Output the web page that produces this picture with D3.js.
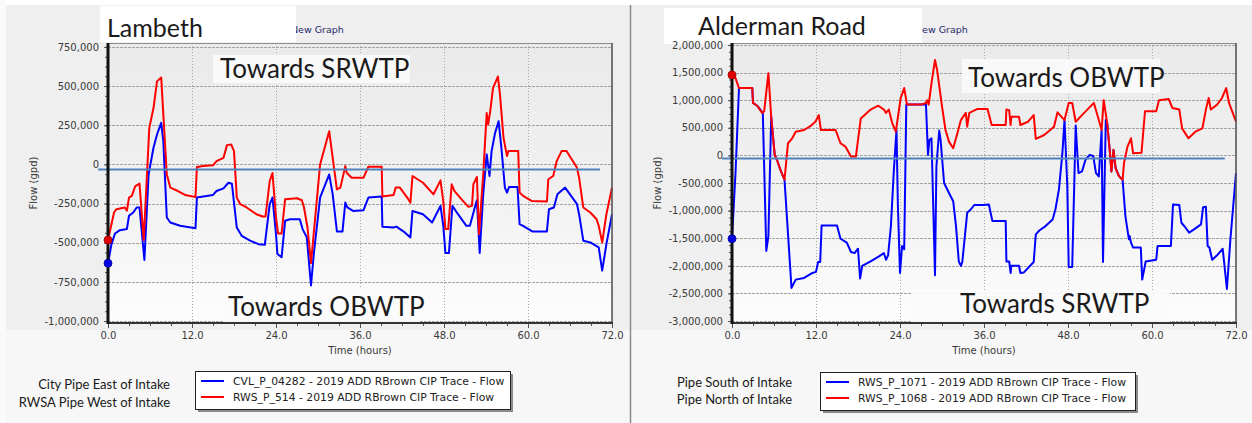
<!DOCTYPE html>
<html><head><meta charset="utf-8">
<script src="https://cdn.jsdelivr.net/npm/d3@7"></script>
<style>body{margin:0;background:#f0f0f0;} svg{display:block}</style>
</head><body><svg id="c" width="1252" height="423"></svg>
<script>
// ---------- data ----------
const timeTicks = [0, 12, 24, 36, 48, 60, 72];
const timeTickLabels = ["0.0", "12.0", "24.0", "36.0", "48.0", "60.0", "72.0"];

const lambethYTicks = [750000, 500000, 250000, 0, -250000, -500000, -750000, -1000000];
const lambethYLabels = ["750,000", "500,000", "250,000", "0", "-250,000", "-500,000", "-750,000", "-1,000,000"];
const aldermanYTicks = [2000000, 1500000, 1000000, 500000, 0, -500000, -1000000, -1500000, -2000000, -2500000, -3000000];
const aldermanYLabels = ["2,000,000", "1,500,000", "1,000,000", "500,000", "0", "-500,000", "-1,000,000", "-1,500,000", "-2,000,000", "-2,500,000", "-3,000,000"];

// Lambeth: CVL_P_04282 (blue) and RWS_P_514 (red), [hours, gpd]
const lambethCity = [[0,-631000],[0.5,-509000],[1,-441000],[1.7,-420000],[2.7,-413000],[3.0,-328000],[3.6,-307000],[4.1,-275000],[4.5,-275000],[5.2,-610000],[5.8,-64000],[6.5,106000],[7,191000],[7.6,265000],[7.9,148000],[8.4,-339000],[8.9,-371000],[10.3,-392000],[12.5,-407000],[12.7,-212000],[15,-195000],[15.5,-170000],[16.5,-153000],[17.2,-117000],[17.7,-123000],[18.4,-403000],[19.1,-456000],[20.3,-487000],[21.5,-509000],[22.4,-513000],[23.1,-254000],[23.5,-212000],[24,-445000],[24.2,-572000],[24.8,-593000],[25.3,-360000],[26,-350000],[27.4,-350000],[27.8,-413000],[28.4,-466000],[29,-773000],[29.4,-572000],[30.3,-212000],[31.6,-64000],[32.1,-191000],[32.7,-428000],[33.5,-428000],[33.9,-244000],[34.2,-275000],[35,-297000],[36.5,-292000],[37.2,-212000],[39.1,-205000],[39.2,-398000],[40.8,-403000],[41.2,-397000],[42.4,-434000],[43.2,-466000],[43.5,-297000],[45,-318000],[46.3,-371000],[47.5,-265000],[47.9,-392000],[48.2,-566000],[48.7,-566000],[49.2,-265000],[50.0,-318000],[51.2,-392000],[51.7,-392000],[52.4,-275000],[52.7,-229000],[53.1,-566000],[53.6,-191000],[54.1,64000],[54.5,-74000],[54.8,85000],[55.3,201000],[55.8,275000],[56.2,106000],[56.7,-148000],[57.0,-180000],[57.3,-144000],[58.5,-144000],[58.8,-381000],[59.3,-392000],[60.6,-428000],[62.7,-428000],[63,-286000],[63.7,-275000],[64.2,-191000],[65.3,-148000],[66,-191000],[67,-254000],[67.3,-318000],[67.9,-487000],[68.9,-498000],[70.1,-530000],[70.6,-678000],[71.2,-509000],[72,-318000]];
const lambethRwsa = [[0,-483000],[0.86,-307000],[1.2,-286000],[2.4,-275000],[2.7,-295000],[3.0,-212000],[3.4,-201000],[3.9,-138000],[4.5,-123000],[5.1,-483000],[5.9,233000],[6.5,360000],[7.0,530000],[7.6,555000],[8.4,-64000],[8.9,-148000],[10.0,-170000],[11,-195000],[12.5,-208000],[12.7,-17000],[13.6,-10000],[15.0,-6000],[15.5,21000],[16.5,42000],[17,123000],[17.6,127000],[18,85000],[18.4,-212000],[18.9,-254000],[19.8,-275000],[21.2,-318000],[22.1,-333000],[22.5,-333000],[23.1,-106000],[23.5,-55000],[24,-339000],[24.3,-441000],[24.8,-441000],[25.3,-222000],[27,-216000],[27.7,-229000],[28,-275000],[28.5,-403000],[29,-630000],[30.3,0],[31.6,212000],[32.1,42000],[32.7,-159000],[33.2,-148000],[33.9,-11000],[34.1,-53000],[34.8,-85000],[36.5,-85000],[37.2,-15000],[39.1,-15000],[39.2,-205000],[40.8,-195000],[41.1,-148000],[41.7,-148000],[42.9,-222000],[43.2,-244000],[43.5,-74000],[45.0,-117000],[46.5,-191000],[47.5,-102000],[47.9,-237000],[48.2,-413000],[48.6,-413000],[49.1,-127000],[49.5,-170000],[50.7,-233000],[51.5,-271000],[52.0,-265000],[52.2,-127000],[52.7,-80000],[53.0,-445000],[53.6,-64000],[54.1,328000],[54.3,254000],[54.6,339000],[55.0,487000],[55.7,561000],[56.0,445000],[56.5,170000],[57,53000],[57.2,85000],[58.6,85000],[58.8,-180000],[59.3,-201000],[60.5,-233000],[62.7,-237000],[62.9,-95000],[63.6,-74000],[64.1,21000],[64.8,85000],[65.5,85000],[67,-21000],[67.3,-85000],[67.9,-275000],[68.9,-307000],[69.8,-350000],[70.1,-392000],[70.6,-498000],[71.2,-318000],[72,-148000]];

// Alderman Road: RWS_P_1071 (blue) and RWS_P_1068 (red), [hours, gpd]
const aldermanSouth = [[0,-1510000],[0.5,-320000],[1,1220000],[2.9,1220000],[3.0,950000],[3.6,900000],[4.4,770000],[4.9,-1730000],[5.2,-1460000],[5.6,700000],[6.1,10000],[6.5,-110000],[7,-290000],[7.5,-440000],[8.5,-2400000],[9.1,-2250000],[10.3,-2220000],[11.5,-2130000],[12,-2110000],[12.3,-1930000],[12.6,-1930000],[12.8,-1270000],[15,-1270000],[15.5,-1510000],[16.4,-1580000],[17,-1750000],[17.5,-1770000],[18,-1690000],[18.3,-2230000],[18.6,-2000000],[19.8,-1920000],[21,-1830000],[21.7,-1770000],[22,-1890000],[22.3,-1810000],[22.7,-1280000],[23.1,-320000],[23.5,460000],[23.7,-920000],[24,-2130000],[24.3,-1640000],[24.6,-1700000],[24.9,920000],[27.4,920000],[27.7,950000],[28,10000],[28.2,280000],[28.5,310000],[29,-2170000],[29.2,-200000],[29.6,450000],[29.8,280000],[30.3,-500000],[31,-680000],[31.6,-830000],[32,-1280000],[32.4,-1920000],[32.7,-2000000],[32.9,-1930000],[33.6,-1040000],[34.1,-980000],[34.6,-900000],[35.8,-900000],[36.7,-890000],[37.2,-1190000],[39.1,-1190000],[39.2,-1920000],[39.6,-1920000],[39.8,-2130000],[39.9,-2000000],[41,-2000000],[41.2,-2130000],[41.7,-2120000],[43.1,-1930000],[43.4,-1430000],[43.9,-1360000],[44.8,-1280000],[45.8,-1160000],[46.2,-980000],[46.7,-620000],[47.2,40000],[47.5,640000],[47.9,-560000],[48.1,-2020000],[48.6,-2020000],[49.1,540000],[49.5,-320000],[50.0,-290000],[50.5,-80000],[51.1,10000],[51.6,-10000],[52,-320000],[52.4,-380000],[52.8,460000],[53.0,-1930000],[53.4,640000],[53.6,580000],[54,40000],[54.2,-290000],[54.5,100000],[54.8,-230000],[55.3,-380000],[55.8,-440000],[56.2,-1100000],[56.7,-1520000],[56.8,-1460000],[57.0,-1580000],[57.3,-1670000],[58.4,-1670000],[58.6,-2250000],[59.1,-1920000],[60.6,-1890000],[60.8,-1640000],[62.7,-1640000],[63,-890000],[63.9,-900000],[64.2,-1220000],[64.8,-1310000],[65.3,-1400000],[66,-1340000],[67,-1250000],[67.3,-940000],[67.7,-930000],[67.95,-1640000],[68.2,-1670000],[68.6,-1890000],[69.3,-1810000],[70.1,-1690000],[70.7,-2420000],[71.2,-1520000],[72,-320000]];
const aldermanNorth = [[0,1458000],[0.5,1400000],[1,1220000],[2.9,1220000],[3.0,950000],[3.6,900000],[4.3,770000],[4.6,800000],[5.2,1490000],[5.6,700000],[6.1,10000],[6.5,-110000],[7,-290000],[7.5,-440000],[8,220000],[8.6,310000],[9.1,430000],[10.3,460000],[11.3,540000],[11.9,610000],[12.4,730000],[12.7,460000],[14.8,460000],[15.5,220000],[16.2,160000],[17,-20000],[17.7,-20000],[18.4,670000],[19.8,830000],[20.9,900000],[21.7,830000],[22,770000],[22.4,830000],[22.9,580000],[23.4,430000],[24.1,1040000],[24.6,1220000],[25,920000],[27,920000],[27.7,950000],[27.9,1000000],[28.1,920000],[28.5,1310000],[29,1730000],[29.3,1550000],[30,890000],[30.5,460000],[31,250000],[31.6,130000],[32.2,400000],[32.7,640000],[33.4,770000],[33.6,520000],[33.9,770000],[35,840000],[36.5,840000],[37.1,550000],[39.1,550000],[39.2,830000],[39.6,820000],[39.8,550000],[39.9,700000],[41,700000],[41.2,550000],[42.3,610000],[43.1,730000],[43.4,300000],[44.6,370000],[46,520000],[46.5,780000],[47.5,640000],[48.1,950000],[48.6,950000],[49.1,610000],[50.0,730000],[51,860000],[51.7,950000],[52.4,640000],[52.8,460000],[53.1,1000000],[53.6,580000],[54,40000],[54.2,-290000],[54.5,100000],[54.8,-230000],[55.3,-380000],[55.8,-440000],[56,-140000],[56.5,160000],[57,310000],[57.3,40000],[58.5,50000],[59,800000],[60.6,800000],[61,1000000],[62.4,1020000],[62.9,860000],[63.9,830000],[64.3,490000],[65.2,310000],[66.2,430000],[67.2,490000],[67.7,830000],[68.1,1040000],[68.4,830000],[69.3,920000],[70,1040000],[70.6,1220000],[71,950000],[72,610000]];

// hand-drawn horizontal reference lines [startHour, endHour, gpd]
const lambethRefLine = [-1.4, 70.3, -32000];
const aldermanRefLine = [-1.4, 70.4, -55000];

const lambethLegend = ["CVL_P_04282 - 2019 ADD RBrown CIP Trace - Flow", "RWS_P_514 - 2019 ADD RBrown CIP Trace - Flow"];
const aldermanLegend = ["RWS_P_1071 - 2019 ADD RBrown CIP Trace - Flow", "RWS_P_1068 - 2019 ADD RBrown CIP Trace - Flow"];
const lambethNotes = ["City Pipe East of Intake", "RWSA Pipe West of Intake"];
const aldermanNotes = ["Pipe South of Intake", "Pipe North of Intake"];

// ---------- drawing ----------
const svg = d3.select("#c");
const W = 1252, H = 423;
const tickFont = "'DejaVu Sans', Verdana, sans-serif";
const annFont = "Lato, 'Open Sans', sans-serif";

const defs = svg.append("defs");
const grad = defs.append("linearGradient").attr("id", "plotbg").attr("x1", 0).attr("y1", 0).attr("x2", 0).attr("y2", 1);
grad.append("stop").attr("offset", "0%").attr("stop-color", "#eaeaea");
grad.append("stop").attr("offset", "55%").attr("stop-color", "#f1f1f1");
grad.append("stop").attr("offset", "100%").attr("stop-color", "#fdfdfd");

svg.append("rect").attr("width", W).attr("height", H).attr("fill", "#efefef");
svg.append("rect").attr("x", 0).attr("y", 330).attr("width", W).attr("height", 93).attr("fill", "#f7f7f7");
svg.append("rect").attr("width", W).attr("height", 5).attr("fill", "#ffffff");
svg.append("rect").attr("width", 6).attr("height", H).attr("fill", "#fafafa");

const panels = [
  { x0: 108, x1: 612, y0: 43, y1: 323, ydom: [-1012500, 775000], yticks: lambethYTicks, ylabels: lambethYLabels,
    minorStep: 62500, blue: lambethCity, red: lambethRwsa, ref: lambethRefLine, legend: lambethLegend, notes: lambethNotes,
    title: "Lambeth", titleBox: [100, 6, 196, 36], titleX: 107, titleY: 37, newGraphX: 291,
    topText: "Towards SRWTP", topBox: [213, 55, 197, 28], topX: 220, topY: 78,
    botText: "Towards OBWTP", botBox: [223, 288, 197, 34], botX: 228, botY: 316,
    legX: 195, legY: 371, noteX: 170, noteY: [389, 407], yLabelX: 33 },
  { x0: 732, x1: 1236, y0: 43, y1: 323, ydom: [-3036000, 2036000], yticks: aldermanYTicks, ylabels: aldermanYLabels,
    minorStep: 125000, blue: aldermanSouth, red: aldermanNorth, ref: aldermanRefLine, legend: aldermanLegend, notes: aldermanNotes,
    title: "Alderman Road", titleBox: [664, 8, 258, 36], titleX: 698, titleY: 35, newGraphX: 915,
    topText: "Towards OBWTP", topBox: [962, 59, 198, 34], topX: 968, topY: 87,
    botText: "Towards SRWTP", botBox: [912, 292, 258, 30], botX: 960, botY: 313,
    legX: 820, legY: 372, noteX: 792, noteY: [387, 404], yLabelX: 657 }
];

panels.forEach(p => {
  const g = svg.append("g");
  const x = d3.scaleLinear().domain([0, 72]).range([p.x0, p.x1]);
  const y = d3.scaleLinear().domain(p.ydom).range([p.y1, p.y0]);

  // plot background
  g.append("rect").attr("x", p.x0).attr("y", p.y0).attr("width", p.x1 - p.x0).attr("height", p.y1 - p.y0).attr("fill", "url(#plotbg)");

  // gridlines
  g.append("g").selectAll("line").data(p.yticks).join("line")
    .attr("x1", p.x0).attr("x2", p.x1).attr("y1", d => Math.round(y(d)) + 0.5).attr("y2", d => Math.round(y(d)) + 0.5)
    .attr("stroke", "#a3a3a3").attr("stroke-width", 1).attr("stroke-dasharray", "3,1");
  g.append("g").selectAll("line").data(timeTicks.slice(1, -1)).join("line")
    .attr("x1", d => Math.round(x(d)) + 0.5).attr("x2", d => Math.round(x(d)) + 0.5).attr("y1", p.y0).attr("y2", p.y1)
    .attr("stroke", "#a8a8a8").attr("stroke-width", 1).attr("stroke-dasharray", "1,2");

  // annotation boxes inside plot
  [p.topBox, p.botBox].forEach(b => {
    g.append("rect").attr("x", b[0]).attr("y", b[1]).attr("width", b[2]).attr("height", b[3]).attr("fill", "#fbfbfb").attr("opacity", 0.9);
  });

  // series
  const line = d3.line().x(d => x(d[0])).y(d => y(d[1]));
  g.append("path").datum(p.blue).attr("d", line).attr("fill", "none").attr("stroke", "#0000ff").attr("stroke-width", 2).attr("stroke-linejoin", "round");
  g.append("path").datum(p.red).attr("d", line).attr("fill", "none").attr("stroke", "#ff0000").attr("stroke-width", 2).attr("stroke-linejoin", "round");

  // reference line
  g.append("line").attr("x1", x(p.ref[0])).attr("x2", x(p.ref[1])).attr("y1", y(p.ref[2])).attr("y2", y(p.ref[2]))
    .attr("stroke", "#4f81bd").attr("stroke-width", 2);

  // title box + New Graph
  g.append("text").attr("x", p.newGraphX).attr("y", 33).text("New Graph")
    .attr("font-family", tickFont).attr("font-size", 9.5).attr("fill", "#27276e");
  g.append("rect").attr("x", p.titleBox[0]).attr("y", p.titleBox[1]).attr("width", p.titleBox[2]).attr("height", p.titleBox[3]).attr("fill", "#ffffff");
  g.append("text").attr("x", p.titleX).attr("y", p.titleY).text(p.title)
    .attr("font-family", annFont).attr("font-size", 25).attr("fill", "#1a1a1a");

  // frame
  g.append("line").attr("x1", p.x0).attr("x2", p.x1).attr("y1", p.y0 + 0.5).attr("y2", p.y0 + 0.5).attr("stroke", "#8c8c8c").attr("stroke-width", 1.2);
  g.append("line").attr("x1", p.x1).attr("x2", p.x1).attr("y1", p.y0).attr("y2", p.y1).attr("stroke", "#555").attr("stroke-width", 1.6);

  // axes
  const yAxis = d3.axisLeft(y).tickValues(p.yticks).tickFormat((d, i) => p.ylabels[i]).tickSize(4).tickSizeOuter(0).tickPadding(5);
  const yMinor = d3.axisLeft(y).tickValues(d3.range(p.yticks[p.yticks.length - 1], p.yticks[0] + 1, p.minorStep)).tickFormat("").tickSize(3).tickSizeOuter(0);
  const ax = g.append("g").attr("transform", `translate(${p.x0},0)`).call(yAxis);
  const axm = g.append("g").attr("transform", `translate(${p.x0},0)`).call(yMinor);
  const xAxis = d3.axisBottom(x).tickValues(timeTicks).tickFormat((d, i) => timeTickLabels[i]).tickSize(5).tickSizeOuter(0).tickPadding(4);
  const xMinor = d3.axisBottom(x).tickValues(d3.range(0, 72.01, 3)).tickFormat("").tickSize(3).tickSizeOuter(0);
  const bx = g.append("g").attr("transform", `translate(0,${p.y1})`).call(xAxis);
  const bxm = g.append("g").attr("transform", `translate(0,${p.y1})`).call(xMinor);
  [ax, axm, bx, bxm].forEach(a => {
    a.select(".domain").remove();
    a.selectAll(".tick line").attr("stroke", "#555");
    a.selectAll(".tick text").attr("font-family", tickFont).attr("font-size", 10).attr("fill", "#3a3a3a");
  });
  g.append("line").attr("x1", p.x0).attr("x2", p.x1 + 1).attr("y1", p.y1).attr("y2", p.y1).attr("stroke", "#333").attr("stroke-width", 2);
  g.append("line").attr("x1", p.x0).attr("x2", p.x0).attr("y1", p.y0).attr("y2", p.y1 + 1).attr("stroke", "#111").attr("stroke-width", 3);

  // start markers
  g.append("circle").attr("cx", x(p.red[0][0])).attr("cy", y(p.red[0][1])).attr("r", 4).attr("fill", "#e00000").attr("stroke", "#a00000").attr("stroke-width", 0.8);
  g.append("circle").attr("cx", x(p.blue[0][0])).attr("cy", y(p.blue[0][1])).attr("r", 4).attr("fill", "#0000e0").attr("stroke", "#0000a0").attr("stroke-width", 0.8);

  // annotation texts
  g.append("text").attr("x", p.topX).attr("y", p.topY).text(p.topText).attr("font-family", annFont).attr("font-size", 26).attr("fill", "#1a1a1a");
  g.append("text").attr("x", p.botX).attr("y", p.botY).text(p.botText).attr("font-family", annFont).attr("font-size", 26).attr("fill", "#1a1a1a");

  // axis titles
  g.append("text").attr("x", (p.x0 + p.x1) / 2).attr("y", 354).attr("text-anchor", "middle").text("Time (hours)")
    .attr("font-family", tickFont).attr("font-size", 10).attr("fill", "#3a3a3a");
  g.append("text").attr("transform", `translate(${p.yLabelX + 4},183) rotate(-90)`).attr("text-anchor", "middle").text("Flow (gpd)")
    .attr("font-family", tickFont).attr("font-size", 10).attr("fill", "#3a3a3a");

  // legend
  const lg = g.append("g").attr("transform", `translate(${p.legX},${p.legY})`);
  lg.append("rect").attr("x", 3).attr("y", 3).attr("width", 315).attr("height", 38).attr("fill", "#8a8a8a");
  lg.append("rect").attr("x", 0.5).attr("y", 0.5).attr("width", 315).attr("height", 38).attr("fill", "#ffffff").attr("stroke", "#222").attr("stroke-width", 1);
  const colors = ["#0000ff", "#ff0000"];
  p.legend.forEach((t, i) => {
    lg.append("line").attr("x1", 6).attr("x2", 29).attr("y1", 10 + i * 16).attr("y2", 10 + i * 16).attr("stroke", colors[i]).attr("stroke-width", 2);
    lg.append("text").attr("x", 38).attr("y", 14 + i * 16).text(t).attr("font-family", tickFont).attr("font-size", 10.8).attr("fill", "#222");
  });
  p.notes.forEach((t, i) => {
    g.append("text").attr("x", p.noteX).attr("y", p.noteY[i]).attr("text-anchor", "end").text(t)
      .attr("font-family", annFont).attr("font-size", 13).attr("fill", "#1a1a1a");
  });
});

// panel divider
svg.append("line").attr("x1", 630.5).attr("x2", 630.5).attr("y1", 5).attr("y2", H).attr("stroke", "#8a8a8a").attr("stroke-width", 1.5);
</script></body></html>
